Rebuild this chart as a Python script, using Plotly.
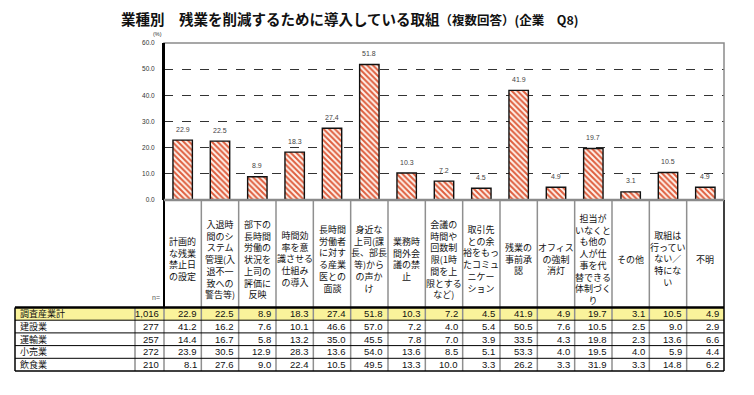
import plotly.graph_objects as go

# ---------------- data ----------------
categories = [
    "計画的<br>な残業<br>禁止日<br>の設定",
    "入退時<br>間のシ<br>ステム<br>管理(入<br>退不一<br>致への<br>警告等)",
    "部下の<br>長時間<br>労働の<br>状況を<br>上司の<br>評価に<br>反映",
    "時間効<br>率を意<br>識させる<br>仕組み<br>の導入",
    "長時間<br>労働者<br>に対す<br>る産業<br>医との<br>面談",
    "身近な<br>上司(課<br>長、部長<br>等)から<br>の声か<br>け",
    "業務時<br>間外会<br>議の禁<br>止",
    "会議の<br>時間や<br>回数制<br>限(1時<br>間を上<br>限とする<br>など)",
    "取引先<br>との余<br>裕をもっ<br>たコミュ<br>ニケー<br>ション",
    "残業の<br>事前承<br>認",
    "オフィス<br>の強制<br>消灯",
    "担当が<br>いなくと<br>も他の<br>人が仕<br>事を代<br>替できる<br>体制づく<br>り",
    "その他",
    "取組は<br>行ってい<br>ない／<br>特にな<br>い",
    "不明",
]
row_labels = ["調査産業計", "建設業", "運輸業", "小売業", "飲食業"]
row_n = ["1,016", "277", "257", "272", "210"]
total = [22.9, 22.5, 8.9, 18.3, 27.4, 51.8, 10.3, 7.2, 4.5, 41.9, 4.9, 19.7, 3.1, 10.5, 4.9]
construction = [41.2, 16.2, 7.6, 10.1, 46.6, 57.0, 7.2, 4.0, 5.4, 50.5, 7.6, 10.5, 2.5, 9.0, 2.9]
transport = [14.4, 16.7, 5.8, 13.2, 35.0, 45.5, 7.8, 7.0, 3.9, 33.5, 4.3, 19.8, 2.3, 13.6, 6.6]
retail = [23.9, 30.5, 12.9, 28.3, 13.6, 54.0, 13.6, 8.5, 5.1, 53.3, 4.0, 19.5, 4.0, 5.9, 4.4]
food = [8.1, 27.6, 9.0, 22.4, 10.5, 49.5, 13.3, 10.0, 3.3, 26.2, 3.3, 31.9, 3.3, 14.8, 6.2]
table_rows = [total, construction, transport, retail, food]
y_ticks = [0, 10, 20, 30, 40, 50, 60]

# ---------------- geometry helpers ----------------
# The page body adds an 8px margin, so the figure is drawn 8px smaller/shifted.
OFF = 8
W, H = 738, 379
ML, MT = 156, 35
PW, PH = 560, 157
MR = W - ML - PW
MB = H - MT - PH


def px(x):  # x in reference-screen pixels -> paper
    return (x - OFF - ML) / PW


def py(y):  # y in reference-screen pixels -> paper
    return (MT + PH - (y - OFF)) / PH


JP = "Noto Sans CJK JP"
NUM = "Liberation Sans, Arial"

fig = go.Figure()
fig.add_trace(go.Bar(
    x=categories, y=total, width=0.52,
    marker=dict(color="#FDEEE6",
                line=dict(color="#111111", width=1.4),
                pattern=dict(shape="\\", fgcolor="#DE5E3E", bgcolor="#FFF3EC",
                             size=4, solidity=0.5, fillmode="replace")),
    hoverinfo="skip",
))

shapes = []
ann = []

# bar value labels
for c, v in zip(categories, total):
    ann.append(dict(x=c, xref="x", y=v, yref="y", yshift=11, text=f"{v:.1f}", showarrow=False,
                    yanchor="middle", font=dict(family=NUM, size=7, color="#444444")))

# plot frame (top / right gray)
shapes.append(dict(type="rect", xref="paper", yref="paper", x0=0, x1=1, y0=0, y1=1,
                   line=dict(color="#8a8a8a", width=1.5), layer="above"))

# table geometry (reference pixels)
table_left, name_right = 15, 135
header_bottom = 307.5
row_h = 12.7
rows_y = [header_bottom + i * row_h for i in range(len(row_labels) + 1)]

# yellow first row
shapes.append(dict(type="rect", xref="paper", yref="paper", x0=px(table_left), x1=1,
                   y0=py(rows_y[1]), y1=py(rows_y[0]), fillcolor="#FAF39B", line=dict(width=0),
                   layer="below"))

ncat = len(categories)
for i in range(1, ncat):
    xx = i / ncat
    shapes.append(dict(type="line", xref="paper", yref="paper", x0=xx, x1=xx,
                       y0=py(rows_y[-1]), y1=0, line=dict(color="#8f8f8f", width=1.5)))
shapes.append(dict(type="line", xref="paper", yref="paper", x0=px(name_right), x1=px(name_right),
                   y0=py(rows_y[-1]), y1=py(rows_y[0]), line=dict(color="#8f8f8f", width=1.5)))
shapes.append(dict(type="line", xref="paper", yref="paper", x0=0, x1=0,
                   y0=py(rows_y[0]), y1=py(rows_y[-1]), line=dict(color="#8f8f8f", width=1.5)))
# left axis continues down through header
shapes.append(dict(type="line", xref="paper", yref="paper", x0=0, x1=0,
                   y0=py(rows_y[0]), y1=1, line=dict(color="#000000", width=2)))
# outer borders
shapes.append(dict(type="line", xref="paper", yref="paper", x0=px(table_left), x1=px(table_left),
                   y0=py(rows_y[0]), y1=py(rows_y[-1]), line=dict(color="#000000", width=1.5)))
shapes.append(dict(type="line", xref="paper", yref="paper", x0=1, x1=1,
                   y0=py(rows_y[-1]), y1=0, line=dict(color="#000000", width=1.5)))
for k, yy in enumerate(rows_y):
    w = 2.5 if k == 0 else (1.5 if k == len(rows_y) - 1 else 1)
    shapes.append(dict(type="line", xref="paper", yref="paper", x0=px(table_left), x1=1,
                       y0=py(yy), y1=py(yy), line=dict(color="#000000", width=w)))
# x axis line (gray)
shapes.append(dict(type="line", xref="paper", yref="paper", x0=0, x1=1, y0=0, y1=0,
                   line=dict(color="#8a8a8a", width=2.5), layer="above"))

# header labels
for c in categories:
    ann.append(dict(x=c, xref="x", y=py(259), yref="paper", text=c, showarrow=False,
                    yanchor="middle", xanchor="center", align="center",
                    font=dict(family=JP, size=9, color="#111111")))
ann.append(dict(x=px(150), xref="paper", y=py(303), yref="paper", text="n=", showarrow=False,
                font=dict(family=NUM, size=7, color="#555555")))

# body
for r, (lab, n, vals) in enumerate(zip(row_labels, row_n, table_rows)):
    yc = py((rows_y[r] + rows_y[r + 1]) / 2)
    ann.append(dict(x=px(18), xref="paper", y=yc, yref="paper", text=lab, showarrow=False,
                    xanchor="left", yanchor="middle",
                    font=dict(family=JP, size=9, color="#111111")))
    ann.append(dict(x=px(161), xref="paper", y=yc, yref="paper", text=n, showarrow=False,
                    xanchor="right", yanchor="middle",
                    font=dict(family=NUM, size=9.5, color="#111111")))
    for c, v in zip(categories, vals):
        ann.append(dict(x=c, xref="x", xshift=16, y=yc, yref="paper", text=f"{v:.1f}",
                        showarrow=False, xanchor="right", yanchor="middle",
                        font=dict(family=NUM, size=9.5, color="#111111")))

# (%) label
ann.append(dict(x=px(151), xref="paper", y=py(34), yref="paper", text="(%)", showarrow=False,
                yanchor="middle", font=dict(family=NUM, size=5.5, color="#333333")))
# title
ann.append(dict(x=px(119), xref="paper", y=py(18), yref="paper", xanchor="left", yanchor="middle",
                text="<b>業種別　残業を削減するために導入している取組</b>"
                     "<span style='font-size:12.5px'><b>（複数回答）(企業　Q8)</b></span>",
                showarrow=False, font=dict(family=JP, size=14.5, color="#111111")))

fig.update_layout(
    width=W, height=H,
    margin=dict(l=ML, r=MR, t=MT, b=MB, pad=0),
    paper_bgcolor="white", plot_bgcolor="white",
    showlegend=False,
    shapes=shapes, annotations=ann,
    xaxis=dict(type="category", range=[-0.5, ncat - 0.5], showticklabels=False,
               showgrid=False, zeroline=False, showline=False, ticks=""),
    yaxis=dict(range=[0, 60], tickvals=y_ticks, ticktext=[f"{t:.1f}" for t in y_ticks],
               tickfont=dict(family=NUM, size=6.5, color="#333333"),
               showgrid=True, gridcolor="#333333", gridwidth=1, griddash="dash",
               zeroline=False, showline=True, linecolor="#000000", linewidth=2,
               ticks="", ticklabelstandoff=6),
)

fig.write_html("out.html")
